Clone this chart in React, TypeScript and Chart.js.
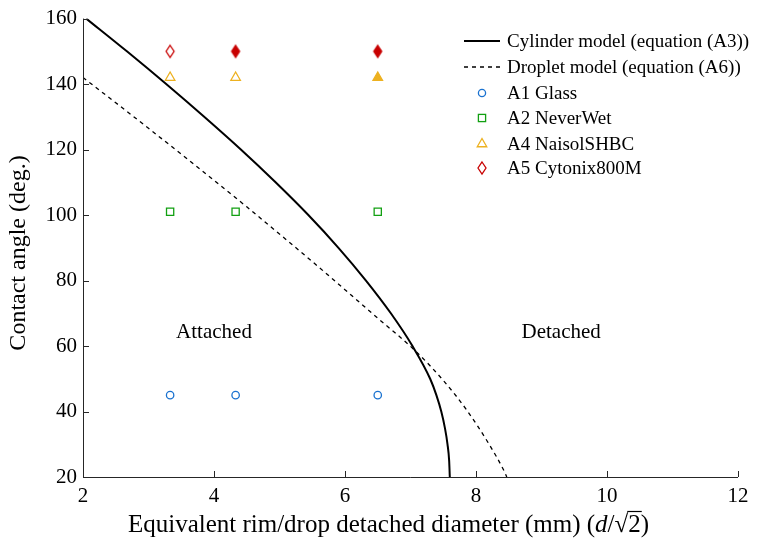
import React, { useEffect, useRef } from 'react';
import { Chart, registerables } from 'chart.js';

Chart.register(...registerables);

// ---- data ----
const cylinderX = [2.05, 2.67, 3.27, 3.85, 4.41, 4.94, 5.44, 5.9, 6.32, 6.7, 7.03, 7.3, 7.395, 7.47, 7.525, 7.565, 7.59, 7.6];
const cylinderY = [160, 150, 140, 130, 120, 110, 100, 90, 80, 70, 60, 50, 45, 40, 35, 30, 25, 20];
const dropletX = [2.0, 2.5, 3.0, 3.5, 4.0, 4.5, 5.0, 5.5, 6.0, 6.5, 7.07, 7.5, 7.86, 8.2, 8.42, 8.47];
const dropletY = [142, 134.3, 126.5, 118.6, 110.6, 102.5, 94.2, 85.8, 77.2, 68.5, 58.6, 49.5, 40.4, 30, 22.2, 20];
const sampleX = [3.33, 4.33, 6.5];
const glassY = [45, 45, 45];
const neverWetY = [101, 101, 101];
const naisolY = [142, 142, 142];
const cytonixY = [150, 150, 150];
const naisolFilled = [false, false, true];
const cytonixFilled = [false, true, true];
const xTicks = [2, 4, 6, 8, 10, 12];
const yTicks = [20, 40, 60, 80, 100, 120, 140, 160];
const legendLabels = [
  'Cylinder model (equation (A3))',
  'Droplet model (equation (A6))',
  'A1 Glass',
  'A2 NeverWet',
  'A4 NaisolSHBC',
  'A5 Cytonix800M',
];
const regionLabels = ['Attached', 'Detached'];
const regionX = [4.0, 9.3];
const regionY = [64, 64];

const FONT = '"Liberation Serif", "Times New Roman", serif';
const BLUE = '#1a72d0';
const GREEN = '#12a012';
const ORANGE = '#EDB120';
const RED = '#C80000';
const AXIS = '#262626';

function diamondImage(filled: boolean) {
  const c = document.createElement('canvas');
  c.width = 12;
  c.height = 16;
  const g = c.getContext('2d')!;
  g.beginPath();
  g.moveTo(6, 2);
  g.lineTo(10, 8);
  g.lineTo(6, 14);
  g.lineTo(2, 8);
  g.closePath();
  if (filled) {
    g.fillStyle = RED;
    g.fill();
  }
  g.strokeStyle = RED;
  g.lineWidth = 1.3;
  g.stroke();
  return c;
}

export default function App() {
  const ref = useRef<HTMLCanvasElement | null>(null);

  useEffect(() => {
    document.body.style.margin = '0';
    const canvas = ref.current!;
    const dOpen = diamondImage(false);
    const dFilled = diamondImage(true);

    const decor = {
      id: 'decor',
      afterDraw(chart: any) {
        const ctx = chart.ctx as CanvasRenderingContext2D;
        const { left, right, top, bottom } = chart.chartArea;
        const xs = chart.scales.x;
        const ys = chart.scales.y;
        ctx.save();
        // axes
        ctx.strokeStyle = AXIS;
        ctx.lineWidth = 1;
        ctx.beginPath();
        ctx.moveTo(left + 0.5, top);
        ctx.lineTo(left + 0.5, bottom + 0.5);
        ctx.lineTo(right, bottom + 0.5);
        for (const v of xTicks) {
          const px = Math.round(xs.getPixelForValue(v)) + 0.5;
          ctx.moveTo(px, bottom);
          ctx.lineTo(px, bottom - 6);
        }
        for (const v of yTicks) {
          const py = Math.round(ys.getPixelForValue(v)) + 0.5;
          ctx.moveTo(left, py);
          ctx.lineTo(left + 6, py);
        }
        ctx.stroke();

        // region labels
        ctx.fillStyle = '#000';
        ctx.font = `21px ${FONT}`;
        ctx.textAlign = 'center';
        ctx.textBaseline = 'middle';
        regionLabels.forEach((t, i) => {
          ctx.fillText(t, xs.getPixelForValue(regionX[i]), ys.getPixelForValue(regionY[i]));
        });

        // legend
        const rowY = [41, 67, 93, 118, 144, 168];
        const mx = 482;
        ctx.textAlign = 'left';
        ctx.font = `19px ${FONT}`;
        legendLabels.forEach((t, i) => {
          const y = rowY[i];
          ctx.fillStyle = '#000';
          ctx.fillText(t, 507, y + 1);
          ctx.save();
          if (i === 0 || i === 1) {
            ctx.strokeStyle = '#000';
            ctx.lineWidth = i === 0 ? 2 : 1.3;
            ctx.setLineDash(i === 0 ? [] : [4, 4]);
            ctx.beginPath();
            ctx.moveTo(464, y);
            ctx.lineTo(500, y);
            ctx.stroke();
          } else if (i === 2) {
            ctx.strokeStyle = BLUE;
            ctx.lineWidth = 1.3;
            ctx.beginPath();
            ctx.arc(mx, y, 3.6, 0, Math.PI * 2);
            ctx.stroke();
          } else if (i === 3) {
            ctx.strokeStyle = GREEN;
            ctx.lineWidth = 1.3;
            ctx.strokeRect(mx - 3.6, y - 3.6, 7.2, 7.2);
          } else if (i === 4) {
            ctx.strokeStyle = ORANGE;
            ctx.lineWidth = 1.3;
            const r = 5.5;
            ctx.beginPath();
            for (let k = 0; k < 3; k++) {
              const a = (k * 2 * Math.PI) / 3;
              const px = mx + Math.sin(a) * r;
              const py = y - Math.cos(a) * r;
              if (k === 0) ctx.moveTo(px, py);
              else ctx.lineTo(px, py);
            }
            ctx.closePath();
            ctx.stroke();
          } else {
            ctx.drawImage(dOpen, mx - 6, y - 8);
          }
          ctx.restore();
        });

        // y title
        ctx.save();
        ctx.translate(19, 253);
        ctx.rotate(-Math.PI / 2);
        ctx.textAlign = 'center';
        ctx.textBaseline = 'middle';
        ctx.font = `24px ${FONT}`;
        ctx.fillStyle = '#000';
        ctx.fillText('Contact angle (deg.)', 0, 0);
        ctx.restore();

        // x title with italic d and sqrt
        const base = `25px ${FONT}`;
        const ital = `italic 25px ${FONT}`;
        const parts: [string, string][] = [
          ['Equivalent rim/drop detached diameter (mm) (', base],
          ['d', ital],
          ['/', base],
          ['\u221A', base],
          ['2', base],
          [')', base],
        ];
        let total = 0;
        const widths = parts.map(([t, f]) => {
          ctx.font = f;
          const w = ctx.measureText(t).width;
          total += w;
          return w;
        });
        let x = 388.5 - total / 2;
        const by = 532;
        ctx.textAlign = 'left';
        ctx.textBaseline = 'alphabetic';
        ctx.fillStyle = '#000';
        parts.forEach(([t, f], i) => {
          ctx.font = f;
          ctx.fillText(t, x, by);
          if (i === 4) {
            ctx.beginPath();
            ctx.strokeStyle = '#000';
            ctx.lineWidth = 1.2;
            ctx.moveTo(x - 1, by - 20.5);
            ctx.lineTo(x + widths[i] + 1, by - 20.5);
            ctx.stroke();
          }
          x += widths[i];
        });

        ctx.restore();
      },
    };

    const chart = new Chart(canvas, {
      type: 'scatter',
      data: {
        datasets: [
          {
            label: legendLabels[0],
            data: cylinderX.map((x, i) => ({ x, y: cylinderY[i] })),
            showLine: true,
            borderColor: '#000',
            borderWidth: 2,
            pointRadius: 0,
            cubicInterpolationMode: 'monotone',
          },
          {
            label: legendLabels[1],
            data: dropletX.map((x, i) => ({ x, y: dropletY[i] })),
            showLine: true,
            borderColor: '#000',
            borderWidth: 1.3,
            borderDash: [4, 4],
            pointRadius: 0,
            cubicInterpolationMode: 'monotone',
          },
          {
            label: legendLabels[2],
            data: sampleX.map((x, i) => ({ x, y: glassY[i] })),
            pointStyle: 'circle',
            pointRadius: 3.7,
            borderWidth: 1.3,
            borderColor: BLUE,
            backgroundColor: 'rgba(0,0,0,0)',
          },
          {
            label: legendLabels[3],
            data: sampleX.map((x, i) => ({ x, y: neverWetY[i] })),
            pointStyle: 'rect',
            pointRadius: 5.1,
            borderWidth: 1.3,
            borderColor: GREEN,
            backgroundColor: 'rgba(0,0,0,0)',
          },
          {
            label: legendLabels[4],
            data: sampleX.map((x, i) => ({ x, y: naisolY[i] })),
            pointStyle: 'triangle',
            pointRadius: 5.5,
            borderWidth: 1.3,
            borderColor: ORANGE,
            backgroundColor: naisolFilled.map((f) => (f ? ORANGE : 'rgba(0,0,0,0)')),
          },
          {
            label: legendLabels[5],
            data: sampleX.map((x, i) => ({ x, y: cytonixY[i] })),
            pointStyle: cytonixFilled.map((f) => (f ? dFilled : dOpen)) as any,
            pointRadius: 6,
          },
        ],
      },
      options: {
        animation: false,
        responsive: false,
        devicePixelRatio: 1,
        layout: { padding: { left: 0, top: 16, right: 43, bottom: 0 } },
        plugins: {
          legend: { display: false },
          tooltip: { enabled: false },
        },
        scales: {
          x: {
            type: 'linear',
            min: 2,
            max: 12,
            afterFit: (s: any) => {
              s.height = 65;
            },
            afterBuildTicks: (s: any) => {
              s.ticks = xTicks.map((v) => ({ value: v }));
            },
            grid: { display: false, drawTicks: false },
            border: { display: false },
            ticks: {
              padding: 7,
              color: '#000',
              font: { family: FONT, size: 21 },
              maxRotation: 0,
            },
          },
          y: {
            type: 'linear',
            min: 20,
            max: 160,
            afterFit: (s: any) => {
              s.width = 83;
            },
            afterBuildTicks: (s: any) => {
              s.ticks = yTicks.map((v) => ({ value: v }));
            },
            grid: { display: false, drawTicks: false },
            border: { display: false },
            ticks: {
              padding: 6,
              color: '#000',
              font: { family: FONT, size: 21 },
            },
          },
        },
      },
      plugins: [decor],
    });

    return () => chart.destroy();
  }, []);

  return (
    <canvas
      ref={ref}
      width={781}
      height={542}
      style={{ display: 'block', width: '781px', height: '542px' }}
    />
  );
}
